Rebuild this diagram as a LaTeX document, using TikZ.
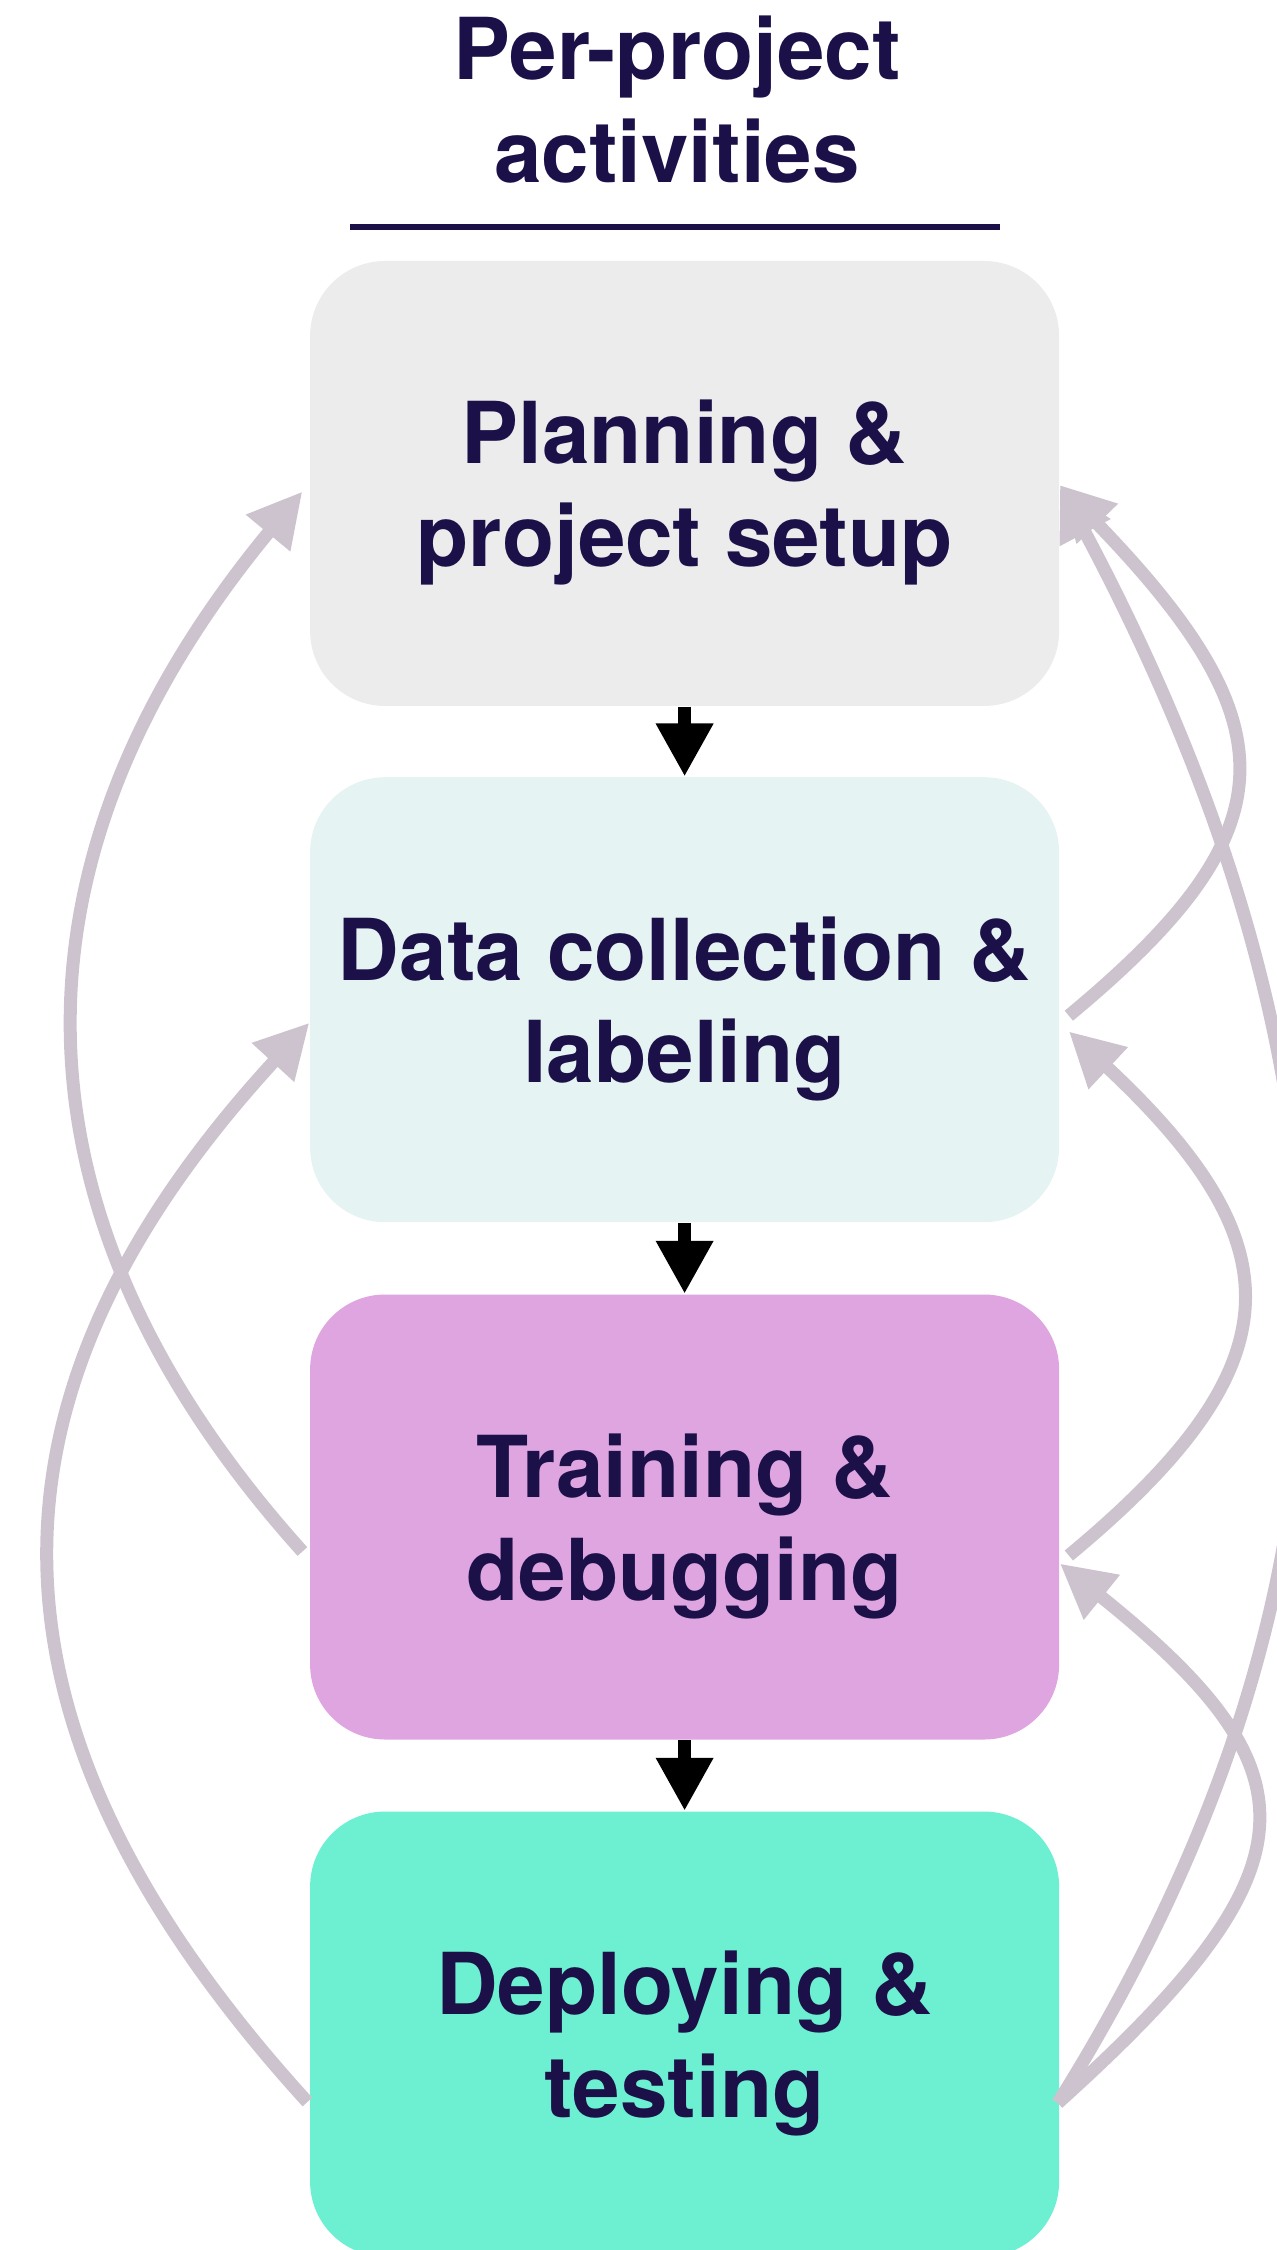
\documentclass[tikz,border=0pt]{standalone}
\usepackage{fontspec}
\setmainfont{TeX Gyre Heros}
\usepackage{xcolor}
\usepackage{tikz}
\usetikzlibrary{arrows.meta}
\definecolor{ink}{HTML}{1C1048}
\definecolor{planfill}{HTML}{ECECEC}
\definecolor{datafill}{HTML}{E6F3F3}
\definecolor{trainfill}{HTML}{DEA5E0}
\definecolor{deployfill}{HTML}{6DF0D2}
\definecolor{loopgray}{HTML}{CDC3CF}
\tikzset{
  stage/.style={rectangle, rounded corners=0.75cm, minimum width=7.49cm, minimum height=4.45cm, inner sep=0pt, align=center, text=ink, text depth=0pt, font=\fontsize{24.3}{29.2}\selectfont\bfseries},
  heading/.style={align=center, text=ink, text depth=0pt, inner sep=0pt, font=\fontsize{24.3}{29.2}\selectfont\bfseries},
  flow/.style={-{Triangle[width=0.54cm,length=0.53cm]}, line width=0.13cm, black},
  back/.style={-{Triangle[width=0.54cm,length=0.54cm]}, line width=0.13cm, loopgray}
}

\begin{document}
\begin{tikzpicture}
    \useasboundingbox (0,0) rectangle (12.76,-22.5);

    \node[heading] (title) at (6.77,-0.995) {Per-project\\activities};
    \draw[ink, line width=0.065cm] (3.50,-2.27) -- (10.00,-2.27);

    \node[stage, fill=planfill] (plan) at (6.846,-4.835) {Planning \&\\project setup};
    \node[stage, fill=datafill] (data) at (6.846,-9.997) {Data collection \&\\labeling};
    \node[stage, fill=trainfill] (train) at (6.846,-15.17) {Training \&\\debugging};
    \node[stage, fill=deployfill] (deploy) at (6.846,-20.34) {Deploying \&\\testing};

    \draw[flow] (plan) -- (data);
    \draw[flow] (data) -- (train);
    \draw[flow] (train) -- (deploy);

    % going back on the left
    \draw[back] ([xshift=-0.07cm,yshift=-0.345cm]train.west) .. controls +(-3.04,3.38) and +(-3.04,-3.68) .. ([xshift=-0.07cm,yshift=-0.08cm]plan.west);
    \draw[back] ([xshift=-0.02cm,yshift=-0.68cm]deploy.west) .. controls +(-3.42,3.76) and +(-3.44,-3.75) .. ([yshift=-0.23cm]data.west);

    % going back on the right
    \draw[back] ([xshift=0.09cm,yshift=-0.16cm]data.east) .. controls +(2.23,1.85) and +(2.33,-2.41) .. ([yshift=-0.015cm]plan.east);
    \draw[back] ([xshift=0.09cm,yshift=-0.385cm]train.east) .. controls +(2.29,1.90) and +(2.29,-2.14) .. ([xshift=0.09cm,yshift=-0.317cm]data.east);
    \draw[back] ([xshift=-0.02cm,yshift=-0.69cm]deploy.east) .. controls +(2.62,2.36) and +(2.60,-2.09) .. ([yshift=-0.465cm]train.east);
    \draw[back] ([xshift=-0.02cm,yshift=-0.69cm]deploy.east) .. controls +(3.23,5.17) and +(3.23,-6.07) .. ([yshift=-0.015cm]plan.east);
\end{tikzpicture}
\end{document}
